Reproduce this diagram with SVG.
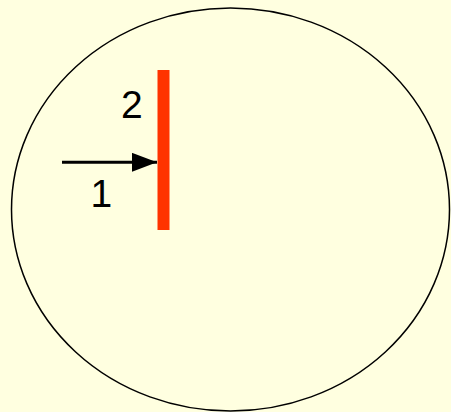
<svg xmlns="http://www.w3.org/2000/svg" width="451" height="412" viewBox="0 0 451 412">
<defs>
<style>
.lbl{font-family:"Liberation Sans",Arial,sans-serif;font-size:39px;fill:#000}
</style>
<marker id="ah" markerUnits="userSpaceOnUse" markerWidth="26" markerHeight="20" refX="25" refY="9.5" orient="auto">
<path d="M0,0 L25,9.5 L0,19 Z" fill="#000"/>
</marker>
</defs>
<rect x="0" y="0" width="451" height="412" fill="#FFFFE0"/>
<g id="circle">
<ellipse cx="230.5" cy="209.5" rx="219" ry="201.5" fill="none" stroke="#000" stroke-width="1.5"/>
</g>
<g id="barrier">
<rect x="157.5" y="70" width="12" height="160" fill="#FF3300"/>
<text class="lbl" x="121" y="118">2</text>
</g>
<g id="connectors">
<line x1="62" y1="162.3" x2="157" y2="162.3" stroke="#000" stroke-width="3" marker-end="url(#ah)"/>
<text class="lbl" x="90.5" y="206.5">1</text>
</g>
</svg>
